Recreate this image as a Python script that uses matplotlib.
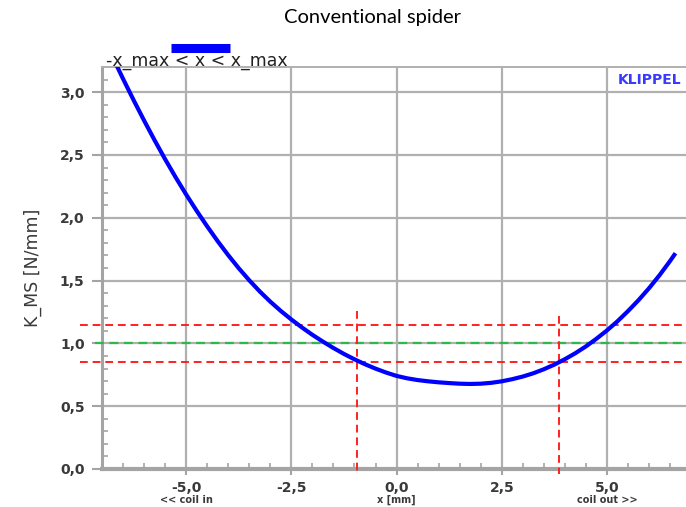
import matplotlib
matplotlib.use("Agg")
import matplotlib.pyplot as plt
from matplotlib.ticker import MultipleLocator, FixedLocator, FuncFormatter
from matplotlib.lines import Line2D
import matplotlib.transforms as mtransforms

# ---- data ----
x_mm = [-6.7, -6.5, -6.25, -6.0, -5.75, -5.5, -5.25, -5.0, -4.75, -4.5, -4.25,
        -4.0, -3.75, -3.5, -3.25, -3.0, -2.75, -2.5, -2.25, -2.0, -1.75, -1.5,
        -1.25, -1.0, -0.75, -0.5, -0.25, 0.0, 0.25, 0.5, 0.75, 1.0, 1.25, 1.5,
        1.75, 2.0, 2.25, 2.5, 2.75, 3.0, 3.25, 3.5, 3.75, 4.0, 4.25, 4.5, 4.75,
        5.0, 5.25, 5.5, 5.75, 6.0, 6.25, 6.5, 6.6]
k_ms = [3.246, 3.106, 2.937, 2.774, 2.617, 2.466, 2.322, 2.185, 2.055, 1.931, 1.813,
        1.702, 1.598, 1.502, 1.413, 1.332, 1.258, 1.190, 1.127, 1.068, 1.014, 0.963,
        0.916, 0.873, 0.834, 0.799, 0.768, 0.741, 0.722, 0.708, 0.698, 0.690, 0.684, 0.679,
        0.677, 0.679, 0.686, 0.698, 0.715, 0.736, 0.762, 0.794, 0.831, 0.874, 0.922, 0.976, 1.037,
        1.103, 1.176, 1.257, 1.344, 1.439, 1.543, 1.656, 1.704]
ref_level = 1.0
tol_upper = 1.15
tol_lower = 0.85
x_limits_pos = [-0.95, 3.86]
x_limits_top = [1.26, 1.22]
x_ticks = [-5.0, -2.5, 0.0, 2.5, 5.0]
y_ticks = [0.0, 0.5, 1.0, 1.5, 2.0, 2.5, 3.0]

W, H = 686, 507
fig = plt.figure(figsize=(W / 100, H / 100), dpi=100)
ax = fig.add_axes([102 / W, 38 / H, 584 / W, 402 / H])

grid_c = "#b0b0b0"
axis_c = "#a4a4a4"
lab_c = "#3a3a3a"

ax.set_xlim(-7.0, -7.0 + 584 / 42.08)
ax.set_ylim(0, 3.2)

ax.xaxis.set_major_locator(FixedLocator(x_ticks))
ax.xaxis.set_minor_locator(MultipleLocator(0.5))
ax.yaxis.set_major_locator(FixedLocator(y_ticks))
ax.yaxis.set_minor_locator(MultipleLocator(0.1))
fmt = FuncFormatter(lambda v, p: f"{v:.1f}".replace(".", ","))
ax.xaxis.set_major_formatter(fmt)
ax.yaxis.set_major_formatter(fmt)

ax.grid(True, which="major", color=grid_c, lw=1.6, zorder=0)
ax.set_axisbelow(True)

ax.spines["right"].set_visible(False)
ax.spines["top"].set_color(grid_c)
ax.spines["top"].set_linewidth(1.4)
ax.spines["left"].set_color(axis_c)
ax.spines["left"].set_linewidth(2.2)
ax.spines["bottom"].set_color(axis_c)
ax.spines["bottom"].set_linewidth(3.0)

ax.tick_params(axis="both", which="major", direction="out", color=axis_c,
               width=1.5, labelcolor=lab_c)
ax.tick_params(axis="y", which="major", length=7.5, pad=5.0)
ax.tick_params(axis="x", which="major", length=4.5, pad=4.5)
ax.tick_params(axis="both", which="minor", direction="in", color=axis_c,
               width=1.2, length=4.5)
ax.tick_params(top=False, right=False, which="both")
for lab in ax.get_xticklabels() + ax.get_yticklabels():
    lab.set_fontfamily("DejaVu Sans")
    lab.set_fontweight("bold")
    lab.set_fontsize(10)

# curve
ax.plot(x_mm, k_ms, color="#0000ff", lw=3.0, zorder=5, solid_joinstyle="round")

# reference lines (extend slightly left of the axis)
trans_h = mtransforms.blended_transform_factory(ax.transAxes, ax.transData)
for yv in [tol_upper, tol_lower]:
    ax.plot([-0.038, 1.0], [yv, yv], transform=trans_h, color="#ff2020", lw=1.4,
            dashes=(4, 2.5), clip_on=False, zorder=4)
ax.plot([-0.012, 1.0], [ref_level, ref_level], transform=trans_h, color="#2db84d",
        lw=1.6, dashes=(4, 2.5), clip_on=False, zorder=4)
for xv, yt in zip(x_limits_pos, x_limits_top):
    ax.plot([xv, xv], [yt, -0.04], color="#ff2020", lw=1.4, dashes=(4, 2.5),
            clip_on=False, zorder=4)

# axis labels
ax.set_ylabel("K_MS [N/mm]", fontsize=12.5, color=lab_c, labelpad=13)
trans_x = mtransforms.blended_transform_factory(ax.transData, fig.transFigure)
ax.text(0.0, 1 - 500 / H, "x [mm]", transform=trans_x, ha="center", va="center",
        fontsize=7, fontweight="bold", color=lab_c)
ax.text(-5.0, 1 - 500 / H, "<< coil in", transform=trans_x, ha="center", va="center",
        fontsize=7, fontweight="bold", color=lab_c)
ax.text(5.0, 1 - 500 / H, "coil out >>", transform=trans_x, ha="center", va="center",
        fontsize=7, fontweight="bold", color=lab_c)

# KLIPPEL logo text
fig.text(681 / W, 1 - 80 / H, "KLIPPEL", ha="right", va="center", fontsize=10,
         fontweight="bold", color="#3a3aff")

# legend
fig.add_artist(Line2D([171 / W, 230 / W], [1 - 48 / H, 1 - 48 / H], color="#0000ff",
                      lw=6.5, transform=fig.transFigure, solid_capstyle="butt"))
fig.text(106 / W, 1 - 61 / H, "-x_max < x < x_max", ha="left", va="center",
         fontsize=12.5, color="#222222")

# title
fig.text(372 / W, 1 - 18 / H, "Conventional spider", ha="center", va="center",
         fontsize=14.5, family="Lato", color="#000000")

fig.savefig("out.png", dpi=100)
